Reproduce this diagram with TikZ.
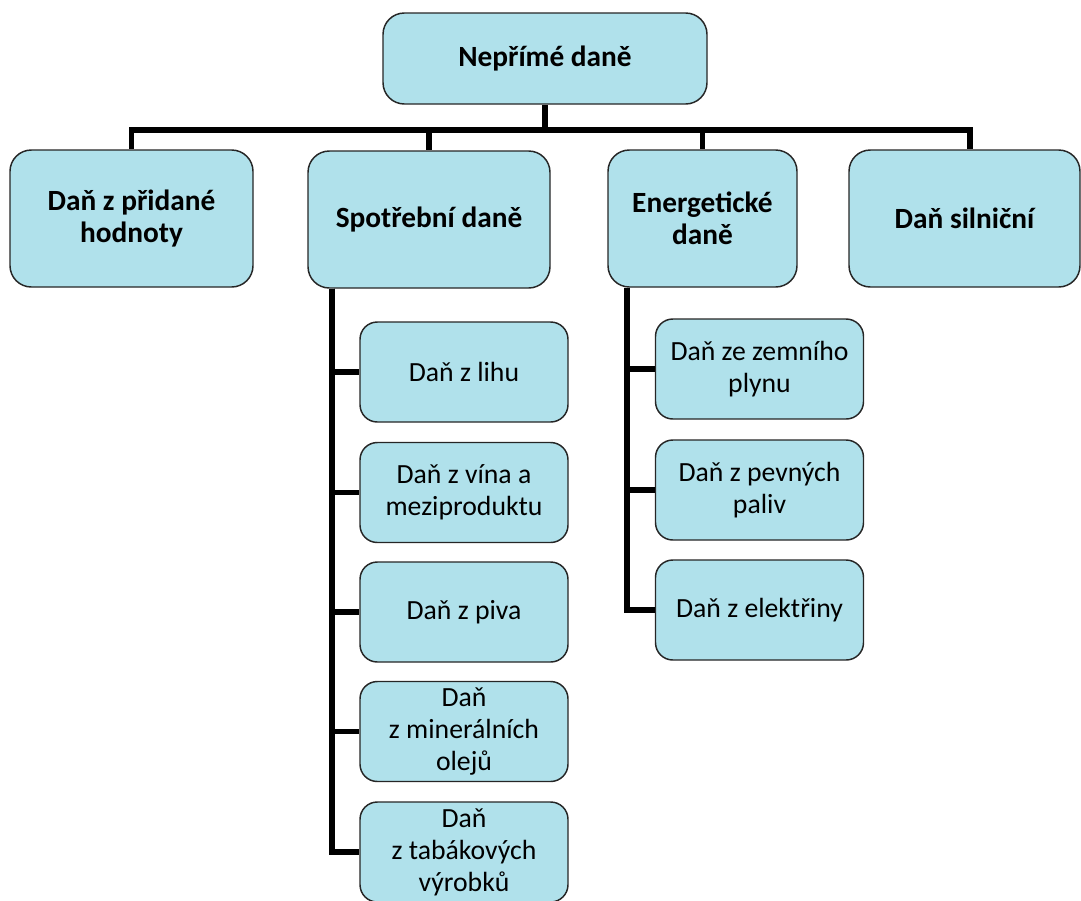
\documentclass[tikz,border=0pt]{standalone}
\usepackage{fontspec}
\setmainfont{Carlito}
\definecolor{boxblue}{RGB}{176,225,235}
\begin{document}
\begin{tikzpicture}[x=0.75pt,y=-0.75pt,
    taxbox/.style={draw=black!85,line width=1.1pt,fill=boxblue,rounded corners=13pt,
      align=center,inner sep=0pt,font=\fontsize{20.8}{24}\selectfont},
    headbox/.style={taxbox,rounded corners=16pt,font=\fontsize{22}{24}\selectfont\bfseries},
    groupbox/.style={headbox,minimum height=102.75pt},
    itembox/.style={taxbox,minimum width=156pt,minimum height=75pt},
    bus/.style={line width=4.2pt}]
  \useasboundingbox (0,0) rectangle (1081,900);
      \draw
        (545,58.5) node[headbox,minimum width=243pt,minimum height=68.25pt] (root){Nepřímé daně}
        (131.5,218.5) node[groupbox,minimum width=182.25pt] (dph){Daň z přidané\\hodnoty}
        (429,219.5) node[groupbox,minimum width=181.5pt] (spot){Spotřební daně}
        (702.5,218.5) node[groupbox,minimum width=141.75pt] (energ){Energetické\\daně}
        (964.5,218.5) node[groupbox,minimum width=173.25pt] (silnice){Daň silniční};
      \draw
        (464,372) node[itembox] (lihu){Daň z lihu}
        (464,492.5) node[itembox] (vino){Daň z vína a\\meziproduktu}
        (464,612) node[itembox] (pivo){Daň z piva}
        (464,731.5) node[itembox] (oleje){Daň\\z minerálních\\olejů}
        (464,852) node[itembox] (tabak){Daň\\z tabákových\\výrobků};
      \draw
        (759.5,369) node[itembox] (plyn){Daň ze zemního\\plynu}
        (759.5,490) node[itembox] (paliva){Daň z pevných\\paliv}
        (759.5,610) node[itembox] (elektro){Daň z elektřiny};
      \coordinate (hub) at (545,130);
      \begin{scope}[bus]
        \draw (root) to (hub);
        \draw (hub) -| (dph.north);
        \draw (hub) -| (spot.north);
        \draw (hub) -| (energ.north);
        \draw (hub) -| ([xshift=4.2pt]silnice.north);
        \foreach \n in {lihu,vino,pivo,oleje,tabak}
          \draw ([xshift=18.75pt]spot.south west) |- (\n.west);
        \foreach \n in {plyn,paliva,elektro}
          \draw ([xshift=15pt]energ.south west) |- (\n.west);
      \end{scope}
    \end{tikzpicture}
\end{document}
